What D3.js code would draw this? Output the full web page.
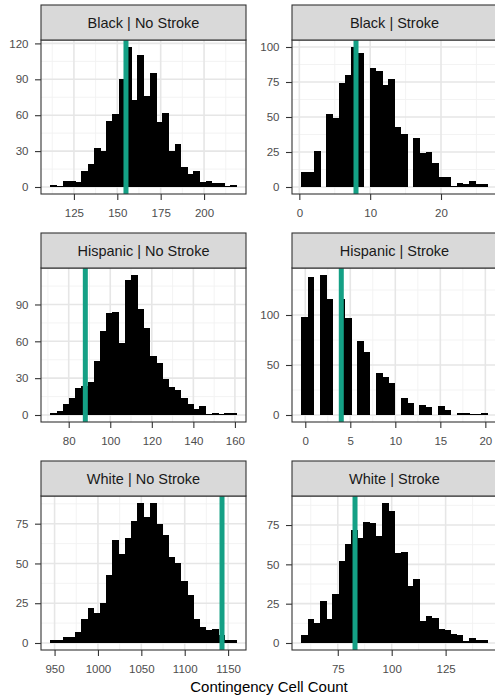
<!DOCTYPE html>
<html>
<head>
<meta charset="utf-8">
<script src="https://cdn.jsdelivr.net/npm/d3@7"></script>
<style>body{margin:0;background:#fff}</style>
</head>
<body>
<div id="vis"></div>
<script>
// facet titles, in reading order
const panelTitles = ["Black | No Stroke", "Black | Stroke", "Hispanic | No Stroke", "Hispanic | Stroke", "White | No Stroke", "White | Stroke"];

// left edge of first bin and bin width for each facet (30 bins each)
const binStarts = [111.4, 0.28, 71.15, -0.44, 945.1, 58.1];
const binWidths = [3.58, 0.877, 2.99, 0.69, 7.16, 2.88];

// simulated counts per bin
const blackNoStroke = [2, 1, 5, 5, 4, 13, 19, 33, 30, 55, 61, 90, 117, 73, 110, 76, 95, 54, 62, 30, 36, 17, 11, 13, 4, 5, 3, 3, 1, 2];
const blackStroke = [11, 11, 26, 0, 52, 49, 74, 80, 100, 96, 0, 85, 83, 73, 77, 43, 38, 0, 35, 24, 25, 17, 7, 7, 1, 3, 2, 4, 2, 2];
const hispanicNoStroke = [2, 3, 9, 14, 22, 24, 27, 44, 68, 83, 84, 59, 110, 114, 86, 71, 48, 42, 29, 23, 20, 14, 9, 5, 7, 1, 2, 1, 2, 2];
const hispanicStroke = [98, 138, 0, 140, 116, 0, 116, 97, 0, 74, 63, 0, 42, 38, 32, 0, 17, 12, 0, 10, 8, 0, 9, 5, 0, 2, 2, 1, 1, 2];
const whiteNoStroke = [2, 2, 4, 4, 7, 15, 22, 19, 25, 43, 65, 56, 66, 77, 88, 79, 88, 75, 68, 54, 50, 39, 30, 15, 10, 8, 9, 5, 2, 2];
const whiteStroke = [5, 15, 13, 27, 15, 31, 52, 63, 72, 67, 77, 76, 68, 89, 84, 57, 58, 36, 41, 14, 17, 16, 9, 8, 6, 5, 1, 3, 2, 2];
const panelCounts = [blackNoStroke, blackStroke, hispanicNoStroke, hispanicStroke, whiteNoStroke, whiteStroke];

// observed cell counts (vertical reference lines)
const observed = [155, 8, 88, 4, 1143, 83];

// tick labels
const xTickValues = [[125, 150, 175, 200], [0, 10, 20], [80, 100, 120, 140, 160], [0, 5, 10, 15, 20], [950, 1000, 1050, 1100, 1150], [75, 100, 125]];
const yTickValues = [[0, 30, 60, 90, 120], [0, 25, 50, 75, 100], [0, 30, 60, 90], [0, 50, 100], [0, 25, 50, 75], [0, 25, 50, 75]];

const xTitle = "Contingency Cell Count";

var font = "'Liberation Sans', Arial, Helvetica, sans-serif";
var colX = [41, 292];
var stripTop = [5, 233, 461];
var panelW = 205, panelH = 154, stripH = 35;

var svg = d3.select("#vis")
    .append("svg")
    .attr("width", 495)
    .attr("height", 700)
    .style("font-family", font);

// ggplot style minor breaks: midpoints between majors, one extra step on each side
function minorBreaks(ticks, domain) {
    var step = ticks[1] - ticks[0];
    var ext = [ticks[0] - step].concat(ticks, [ticks[ticks.length - 1] + step]);
    var out = [];
    for (var k = 0; k < ext.length - 1; k++) {
        var m = (ext[k] + ext[k + 1]) / 2;
        if (m > domain[0] && m < domain[1]) out.push(m);
    }
    return out;
}

panelTitles.forEach(function (title, i) {
    var col = i % 2, row = Math.floor(i / 2);
    var px = colX[col], sy = stripTop[row], py = sy + stripH;
    var counts = panelCounts[i];
    var bins = counts.map(function (c, k) {
        return { x0: binStarts[i] + k * binWidths[i], x1: binStarts[i] + (k + 1) * binWidths[i], n: c };
    });
    var lo = bins[0].x0, hi = bins[bins.length - 1].x1, padX = (hi - lo) * 0.05;
    var x = d3.scaleLinear().domain([lo - padX, hi + padX]).range([px, px + panelW]);
    var maxN = d3.max(counts);
    var y = d3.scaleLinear().domain([-maxN * 0.05, maxN * 1.05]).range([py + panelH, py]);

    var g = svg.append("g");
    var clipId = "clip" + i;
    g.append("clipPath").attr("id", clipId)
        .append("rect").attr("x", px).attr("y", py).attr("width", panelW).attr("height", panelH);

    var inner = g.append("g").attr("clip-path", "url(#" + clipId + ")");

    // minor grid
    inner.selectAll(".mx").data(minorBreaks(xTickValues[i], x.domain())).enter().append("line")
        .attr("x1", function (d) { return x(d); }).attr("x2", function (d) { return x(d); })
        .attr("y1", py).attr("y2", py + panelH)
        .attr("stroke", "#f2f2f2").attr("stroke-width", 0.9);
    inner.selectAll(".my").data(minorBreaks(yTickValues[i], y.domain())).enter().append("line")
        .attr("y1", function (d) { return y(d); }).attr("y2", function (d) { return y(d); })
        .attr("x1", px).attr("x2", px + panelW)
        .attr("stroke", "#f2f2f2").attr("stroke-width", 0.9);
    // major grid
    inner.selectAll(".gx").data(xTickValues[i]).enter().append("line")
        .attr("x1", function (d) { return x(d); }).attr("x2", function (d) { return x(d); })
        .attr("y1", py).attr("y2", py + panelH)
        .attr("stroke", "#e6e6e6").attr("stroke-width", 1.6);
    inner.selectAll(".gy").data(yTickValues[i]).enter().append("line")
        .attr("y1", function (d) { return y(d); }).attr("y2", function (d) { return y(d); })
        .attr("x1", px).attr("x2", px + panelW)
        .attr("stroke", "#e6e6e6").attr("stroke-width", 1.6);

    // histogram bars
    inner.selectAll(".bar").data(bins.filter(function (b) { return b.n > 0; })).enter().append("rect")
        .attr("x", function (d) { return x(d.x0); })
        .attr("width", function (d) { return x(d.x1) - x(d.x0) + 0.6; })
        .attr("y", function (d) { return y(d.n); })
        .attr("height", function (d) { return y(0) - y(d.n); })
        .attr("fill", "#000")
        .attr("shape-rendering", "crispEdges");

    // observed value line
    inner.append("line")
        .attr("x1", x(observed[i])).attr("x2", x(observed[i]))
        .attr("y1", py).attr("y2", py + panelH)
        .attr("stroke", "#14a085").attr("stroke-width", 5);

    // panel border
    g.append("rect").attr("x", px).attr("y", py).attr("width", panelW).attr("height", panelH)
        .attr("fill", "none").attr("stroke", "#333").attr("stroke-width", 1.1);

    // strip
    g.append("rect").attr("x", px).attr("y", sy).attr("width", panelW).attr("height", stripH)
        .attr("fill", "#d9d9d9").attr("stroke", "#333").attr("stroke-width", 1.1);
    g.append("text")
        .attr("x", px + panelW / 2).attr("y", sy + stripH / 2)
        .attr("dy", "0.35em")
        .attr("text-anchor", "middle")
        .style("font-size", "14.5px")
        .attr("fill", "#1a1a1a")
        .text(title);

    // axes
    var xAxis = g.append("g")
        .attr("transform", "translate(0," + (py + panelH) + ")")
        .call(d3.axisBottom(x).tickValues(xTickValues[i]).tickSize(6).tickPadding(8.5).tickFormat(d3.format("d")));
    var yAxis = g.append("g")
        .attr("transform", "translate(" + px + ",0)")
        .call(d3.axisLeft(y).tickValues(yTickValues[i]).tickSize(6).tickPadding(6.5).tickFormat(d3.format("d")));
    [xAxis, yAxis].forEach(function (a) {
        a.select(".domain").remove();
        a.selectAll(".tick line").attr("stroke", "#333").attr("stroke-width", 1.1);
        a.selectAll(".tick text")
            .attr("fill", "#4d4d4d")
            .style("font-size", "11.5px")
            .style("font-family", font);
    });
});

svg.append("text")
    .attr("x", (colX[0] + colX[1] + panelW) / 2)
    .attr("y", 692)
    .attr("text-anchor", "middle")
    .style("font-size", "15px")
    .attr("fill", "#000")
    .text(xTitle);
</script>
</body>
</html>
